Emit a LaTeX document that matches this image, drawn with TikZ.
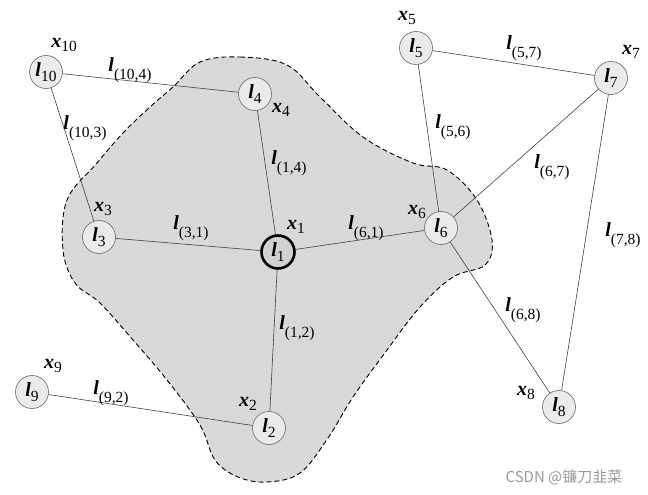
\documentclass[tikz,border=0pt]{standalone}
\usepackage{fontspec}
\setmainfont{Liberation Serif}
\newfontfamily\cjk{Noto Sans CJK SC}
\newcommand{\lsym}[2]{\textbf{\textit{#1}}\raisebox{-0.22em}{\fontsize{15.5}{16}\selectfont #2}}
\newcommand{\lsub}[1]{\textbf{\textit{l}}\raisebox{-0.4em}{\fontsize{15.5}{16}\selectfont (#1)}}
\begin{document}
\begin{tikzpicture}[x=1pt, y=-1pt, font=\fontsize{20}{22}\selectfont,
  lm/.style={circle, draw=black!60, fill=black!8, minimum size=33pt, inner sep=0pt, line width=0.6pt},
  link/.style={draw=black!75, line width=0.6pt}]
\useasboundingbox (0,0) rectangle (648,495);
% shaded region round l1
\draw[dash pattern=on 5pt off 3pt, fill=black!15, line width=0.9pt] plot[smooth cycle, tension=0.6] coordinates {
  (200,62) (240,57) (287,65) (320,97) (363,137) (413,163) (447,170) (477,200) (492,240) (485,265)
  (453,277) (420,307) (387,350) (353,397) (328,438) (300,473) (267,482) (238,477) (215,460) (200,425)
  (167,380) (133,340) (100,303) (75,283) (63,250) (67,200) (97,163) (123,133) (150,107) (173,87)};
% landmarks
\node[lm] (l10) at (46,72) {\lsym{l}{10}};
\node[lm] (l4) at (255,94) {\lsym{l}{4}};
\node[lm] (l5) at (416,48) {\lsym{l}{5}};
\node[lm] (l7) at (611,78) {\lsym{l}{7}};
\node[lm] (l3) at (99,237) {\lsym{l}{3}};
\node[lm, fill=black!18, draw=black, line width=2.6pt] (l1) at (278,252) {\lsym{l}{1}};
\node[lm] (l6) at (441,228) {\lsym{l}{6}};
\node[lm] (l9) at (32,392) {\lsym{l}{9}};
\node[lm] (l2) at (269,428) {\lsym{l}{2}};
\node[lm] (l8) at (559,407) {\lsym{l}{8}};
% poses
\node (x10) at (64,45) {\lsym{x}{10}};
\node (x4) at (281,110) {\lsym{x}{4}};
\node (x3) at (103,209) {\lsym{x}{3}};
\node (x1) at (296,227) {\lsym{x}{1}};
\node (x5) at (407,18) {\lsym{x}{5}};
\node (x7) at (631,52) {\lsym{x}{7}};
\node (x6) at (417,212) {\lsym{x}{6}};
\node (x9) at (53,366) {\lsym{x}{9}};
\node (x2) at (248,404) {\lsym{x}{2}};
\node (x8) at (526,393) {\lsym{x}{8}};
% links
\foreach \a/\b in {l10/l4, l10/l3, l4/l1, l3/l1, l1/l6, l1/l2, l9/l2, l5/l6, l5/l7, l6/l7, l6/l8, l7/l8}
  \draw[link] (\a) -- (\b);
\node (e104) at (130,70) {\lsub{10,4}};
\node (e103) at (85,128) {\lsub{10,3}};
\node (e14) at (289,163) {\lsub{1,4}};
\node (e31) at (191,228) {\lsub{3,1}};
\node (e61) at (366,228) {\lsub{6,1}};
\node (e56) at (453,127) {\lsub{5,6}};
\node (e57) at (524,48) {\lsub{5,7}};
\node (e67) at (552,167) {\lsub{6,7}};
\node (e78) at (623,235) {\lsub{7,8}};
\node (e12) at (297,328) {\lsub{1,2}};
\node (e92) at (111,393) {\lsub{9,2}};
\node (e68) at (523,310) {\lsub{6,8}};
\node[text=black!40, font=\cjk\fontsize{15}{15}\selectfont] (wm) at (564,477) {CSDN @镰刀韭菜};
\end{tikzpicture}
\end{document}
